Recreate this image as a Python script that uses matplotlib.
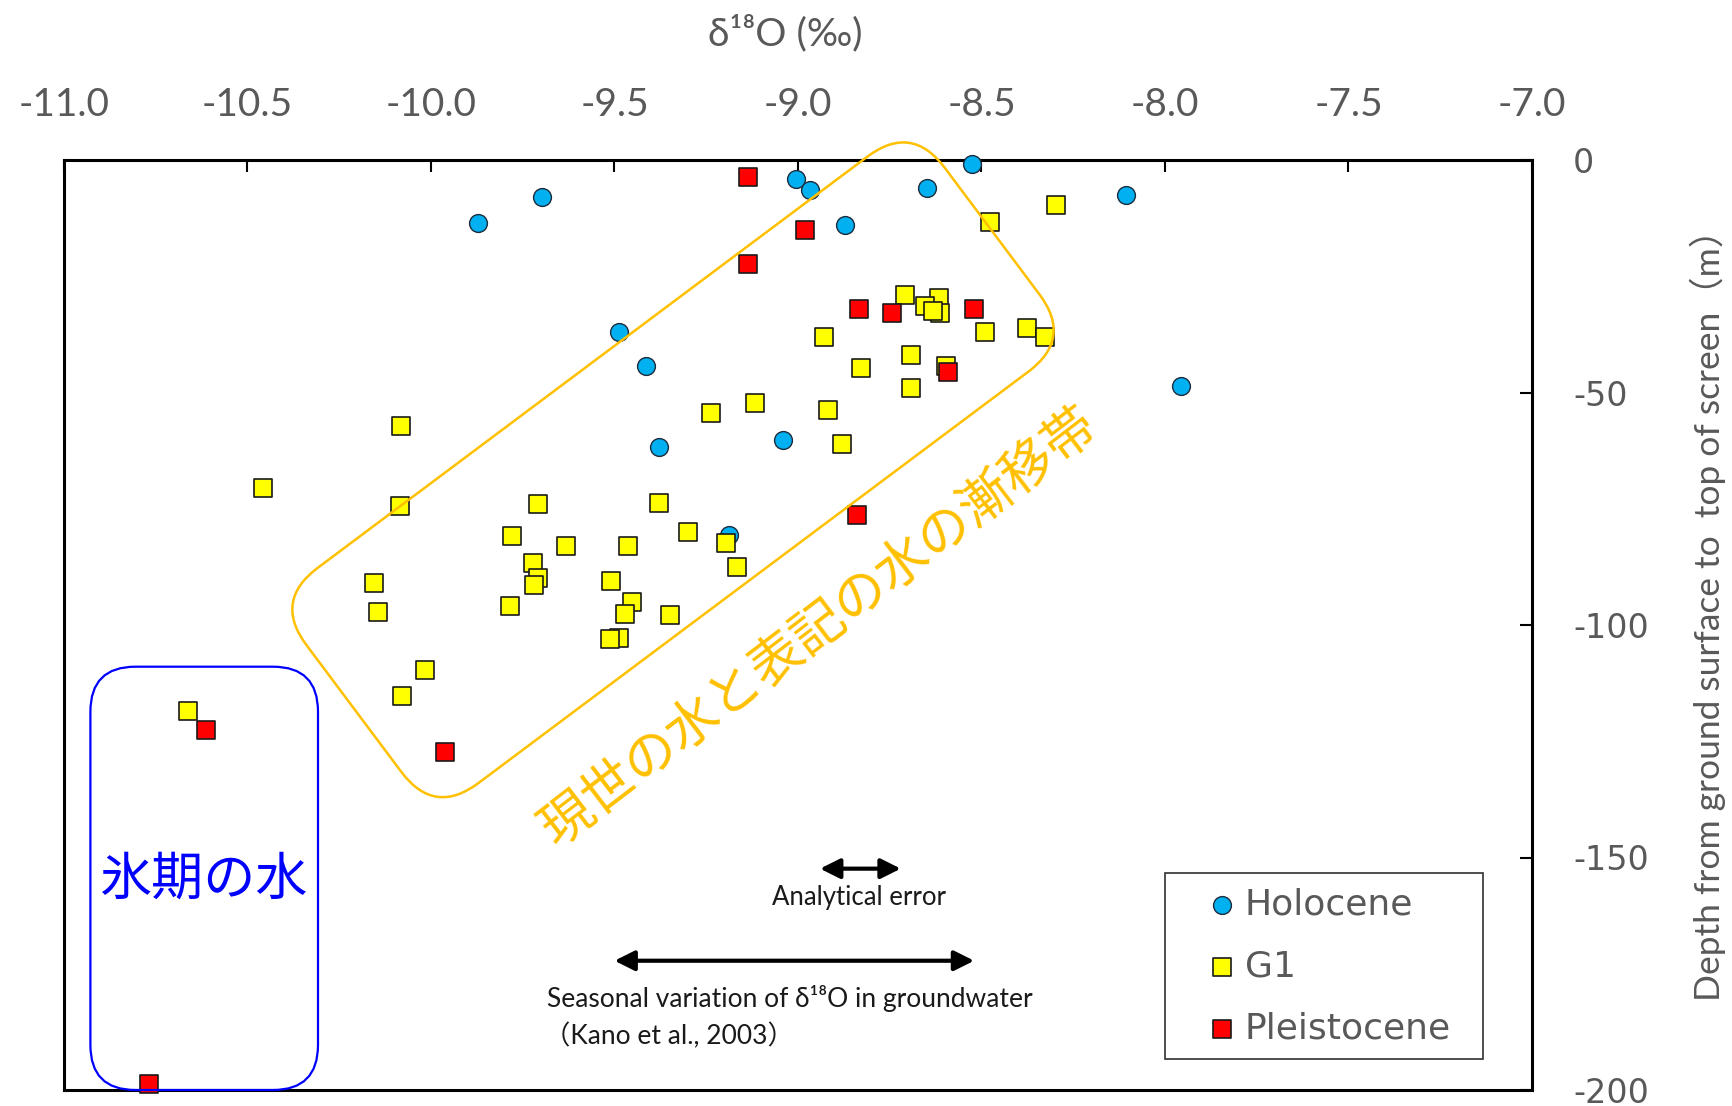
import matplotlib
matplotlib.use("Agg")
import matplotlib.pyplot as plt
from matplotlib.patches import FancyBboxPatch, Rectangle
from matplotlib.transforms import Affine2D

plt.rcParams['axes.unicode_minus'] = False

# ---------------- data ----------------
holocene_x = [-9.873, -9.698, -9.006, -8.967, -8.873, -8.648, -8.525, -8.107,
              -9.489, -9.414, -9.380, -9.042, -9.188, -7.957]
holocene_y = [-13.5, -7.9, -4.0, -6.4, -13.9, -6.0, -0.8, -7.6,
              -37.0, -44.4, -61.7, -60.3, -80.7, -48.6]

g1_x = [-10.662, -10.459, -10.083, -10.085, -9.708, -9.380, -9.236, -9.117,
        -9.778, -9.633, -9.464, -9.300, -9.196, -9.166, -9.722, -9.708,
        -9.718, -10.155, -10.145, -9.509, -9.786, -9.453, -9.471, -9.348,
        -9.489, -9.511, -10.015, -10.080, -8.297, -8.477, -8.709, -8.616,
        -8.655, -8.613, -8.631, -8.928, -8.491, -8.377, -8.328, -8.691,
        -8.828, -8.597, -8.692, -8.919, -8.880]
g1_y = [-118.6, -70.6, -57.2, -74.4, -74.0, -73.7, -54.5, -52.2,
        -80.8, -83.1, -83.1, -79.9, -82.3, -87.5, -86.6, -89.8,
        -91.5, -90.9, -97.1, -90.5, -96.0, -95.1, -97.6, -97.8,
        -102.7, -103.1, -109.7, -115.3, -9.7, -13.3, -29.0, -29.7,
        -31.3, -32.9, -32.4, -38.0, -36.9, -36.2, -38.0, -41.9,
        -44.8, -44.2, -49.1, -53.8, -61.0]

pleis_x = [-9.137, -8.980, -9.137, -8.834, -8.744, -8.520, -8.592, -8.839,
           -10.612, -9.962, -10.769]
pleis_y = [-3.7, -15.1, -22.3, -32.1, -32.9, -32.1, -45.5, -76.4,
           -122.6, -127.3, -198.7]

series_labels = ['Holocene', 'G1', 'Pleistocene']

x_ticks = [-11.0, -10.5, -10.0, -9.5, -9.0, -8.5, -8.0, -7.5, -7.0]
x_tick_labels = ['-11.0', '-10.5', '-10.0', '-9.5', '-9.0', '-8.5', '-8.0', '-7.5', '-7.0']
y_ticks = [0, -50, -100, -150, -200]
y_tick_labels = ['0', '-50', '-100', '-150', '-200']

analytical_error_x = [-8.94, -8.72]
analytical_error_y = -152.4
seasonal_x = [-9.50, -8.52]
seasonal_y = -172.2

# ---------------- figure ----------------
W, H = 1733, 1106
fig = plt.figure(figsize=(W / 100, H / 100), dpi=100)
ax = fig.add_axes([64 / W, (H - 1090) / H, 1468 / W, 930 / H])
ax.set_xlim(-11, -7)
ax.set_ylim(-200, 0)

GRAY = '#595959'
LATIN = ['Lato', 'DejaVu Sans']

h1 = ax.scatter(holocene_x, holocene_y, s=165, marker='o', facecolor='#00B0F0',
                edgecolor='#1c2c3c', linewidth=1.0, zorder=3, clip_on=False,
                label=series_labels[0])
h2 = ax.scatter(g1_x, g1_y, s=160, marker='s', facecolor='#FFFF00',
                edgecolor='#1a1a1a', linewidth=1.2, zorder=4, clip_on=False,
                label=series_labels[1])
h3 = ax.scatter(pleis_x, pleis_y, s=160, marker='s', facecolor='#FF0000',
                edgecolor='#1a1a1a', linewidth=1.2, zorder=5, clip_on=False,
                label=series_labels[2])

for sp in ax.spines.values():
    sp.set_linewidth(2.2)
    sp.set_color('black')

# x axis on top
ax.xaxis.tick_top()
ax.set_xticks(x_ticks)
ax.set_xticklabels(x_tick_labels, fontfamily=LATIN, fontsize=28, color=GRAY)
ax.tick_params(axis='x', which='both', direction='in', length=8.6, width=1.5,
               top=True, bottom=False, labeltop=True, labelbottom=False, pad=26.5)
ax.xaxis.set_label_position('top')
ax.set_xlabel('δ¹⁸O (‰)', fontfamily=LATIN, fontsize=28, color=GRAY)
ax.xaxis.set_label_coords(0.491, 1.1366)
ax.xaxis.label.set_va('center')

# y axis on right
ax.yaxis.tick_right()
ax.set_yticks(y_ticks)
ax.set_yticklabels(y_tick_labels, fontfamily='DejaVu Sans', fontsize=24, color=GRAY)
ax.tick_params(axis='y', which='both', direction='in', length=8.6, width=1.5,
               left=False, right=True, labelleft=False, labelright=True, pad=29.5)
ax.yaxis.set_label_position('right')
ax.set_ylabel('Depth from ground surface to  top of screen（m）',
              fontfamily=['Lato', 'Noto Sans CJK JP'], fontsize=25.5, color=GRAY,
              rotation=90)
ax.yaxis.set_label_coords(1.120, 0.520)
ax.yaxis.label.set_va('center')

# ---------------- annotation shapes ----------------
orange_box = FancyBboxPatch((-7.97 / 2, -2.686 / 2), 7.97, 2.686,
                            boxstyle="round,pad=0,rounding_size=0.55",
                            facecolor='none', edgecolor='#FFC000', linewidth=1.8,
                            transform=Affine2D().rotate_deg(36.8).translate(6.730, 6.362)
                            + fig.dpi_scale_trans, zorder=6)
fig.add_artist(orange_box)

blue_box = FancyBboxPatch((0.904, 0.16), 2.276, 4.233,
                          boxstyle="round,pad=0,rounding_size=0.45",
                          facecolor='none', edgecolor='#0000FF', linewidth=1.6,
                          transform=fig.dpi_scale_trans, zorder=6)
fig.add_artist(blue_box)

fig.text(0.4728, 0.4322, '現世の水と表記の水の漸移帯', fontfamily='Noto Sans CJK JP',
         fontsize=38, color='#FFC000', rotation=37.4, rotation_mode='anchor',
         ha='center', va='center')
fig.text(0.1175, 0.2043, '氷期の水', fontfamily='Noto Sans CJK JP',
         fontsize=37.5, color='#0000FF', ha='center', va='center')

# ---------------- arrows and notes ----------------
ax.annotate('', xy=(analytical_error_x[1], analytical_error_y),
            xytext=(analytical_error_x[0], analytical_error_y),
            arrowprops=dict(arrowstyle='<|-|>,head_length=0.6,head_width=0.3',
                            mutation_scale=20, lw=3, color='black',
                            shrinkA=0, shrinkB=0))
ax.annotate('', xy=(seasonal_x[1], seasonal_y), xytext=(seasonal_x[0], seasonal_y),
            arrowprops=dict(arrowstyle='<|-|>,head_length=0.6,head_width=0.3',
                            mutation_scale=20, lw=3, color='black',
                            shrinkA=0, shrinkB=0))
ax.text(-8.833, -158.6, 'Analytical error', fontfamily=LATIN, fontsize=18.5,
        color='#1a1a1a', ha='center', va='center')
ax.text(-9.684, -180.3, 'Seasonal variation of δ¹⁸O in groundwater',
        fontfamily=LATIN, fontsize=19, color='#1a1a1a', ha='left', va='center')
ax.text(-9.692, -188.5, '（Kano et al., 2003）',
        fontfamily=['Lato', 'Noto Sans CJK JP'], fontsize=19, color='#1a1a1a',
        ha='left', va='center')

# ---------------- legend ----------------
leg = ax.legend(handles=[h1, h2, h3], loc='upper left',
                bbox_to_anchor=(0.7766, 0.2180), frameon=False, borderpad=0,
                borderaxespad=0, handlelength=1.0, handletextpad=0.13,
                labelspacing=0.78, scatterpoints=1,
                prop={'family': 'DejaVu Sans', 'size': 26})
for t in leg.get_texts():
    t.set_color(GRAY)
ax.add_patch(Rectangle((0.7500, 0.0333), 0.2166, 0.2000, transform=ax.transAxes,
                       facecolor='white', edgecolor='#303030', linewidth=1.2,
                       zorder=1.5))

fig.savefig('out.png', dpi=100)
